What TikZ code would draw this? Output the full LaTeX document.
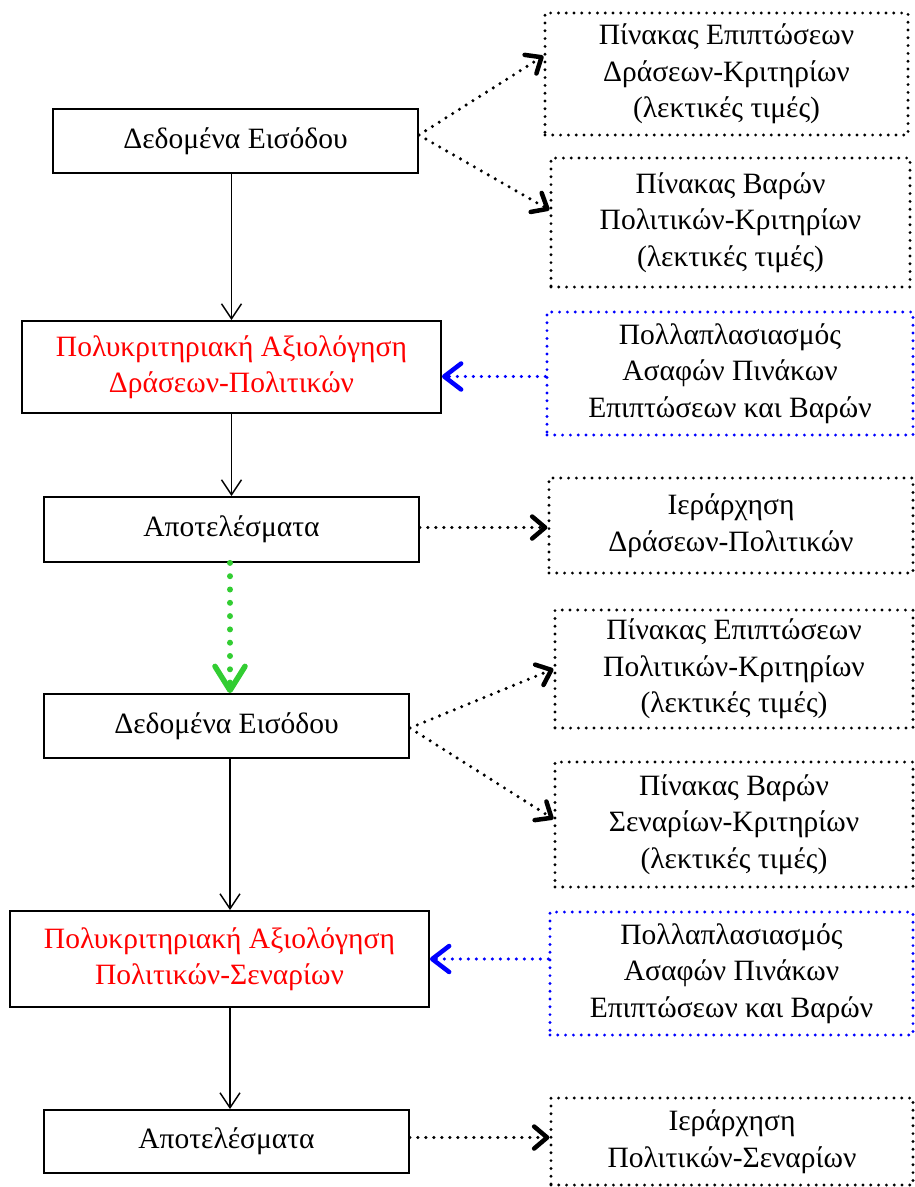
\documentclass[tikz,border=0pt]{standalone}
\usepackage{fontspec}
\setmainfont{Liberation Serif}
\usetikzlibrary{arrows.meta}
\definecolor{flowgreen}{RGB}{50,205,50}
\begin{document}
\begin{tikzpicture}[x=1pt,y=-1pt,
  every node/.style={font=\fontsize{29.5}{36.5}\selectfont, align=center, inner sep=0pt, rectangle},
  procbox/.style={draw=black, line width=1.8pt},
  dotbox/.style={draw=black, line width=3.2pt, dash pattern=on 0pt off 7.8pt, line cap=round},
  bluebox/.style={dotbox, draw=blue},
  flow/.style={draw=black, line width=1.5pt, -{Straight Barb[length=15pt,width=20pt]}},
  dotarrow/.style={draw=black, line width=3.4pt, dash pattern=on 0pt off 8pt, line cap=round,
    -{Straight Barb[round,length=13pt,width=22pt,line width=4.5pt]}},
  bluearrow/.style={dotarrow, draw=blue,
    -{Straight Barb[round,length=17pt,width=26pt,line width=4.5pt]}},
  greenarrow/.style={draw=flowgreen, line width=6pt, dash pattern=on 0pt off 13.3pt, line cap=round,
    -{Straight Barb[round,length=24pt,width=30pt,line width=5.5pt]}}
]
\useasboundingbox (0,0) rectangle (914,1187);

% main flow, left column
\node[procbox, minimum width=365pt, minimum height=64pt] (b1) at (235.5,141) {Δεδομένα Εισόδου};
\node[procbox, minimum width=419pt, minimum height=92pt, text=red] (b2) at (231.5,367)
  {Πολυκριτηριακή Αξιολόγηση\\Δράσεων-Πολιτικών};
\node[procbox, minimum width=375pt, minimum height=65pt] (b3) at (231.5,529.5) {Αποτελέσματα};
\node[procbox, minimum width=365pt, minimum height=64pt] (b4) at (226.5,726) {Δεδομένα Εισόδου};
\node[procbox, minimum width=419pt, minimum height=96pt, text=red] (b5) at (219.5,959)
  {Πολυκριτηριακή Αξιολόγηση\\Πολιτικών-Σεναρίων};
\node[procbox, minimum width=365pt, minimum height=63pt] (b6) at (226.5,1141.5) {Αποτελέσματα};

% side boxes, right column
\node[dotbox, minimum width=363pt, minimum height=122pt] (r1) at (726.5,74)
  {Πίνακας Επιπτώσεων\\Δράσεων-Κριτηρίων\\(λεκτικές τιμές)};
\node[dotbox, minimum width=359pt, minimum height=129pt] (r2) at (730.5,222.5)
  {Πίνακας Βαρών\\Πολιτικών-Κριτηρίων\\(λεκτικές τιμές)};
\node[bluebox, minimum width=366pt, minimum height=123pt] (r3) at (730,373.5)
  {Πολλαπλασιασμός\\Ασαφών Πινάκων\\Επιπτώσεων και Βαρών};
\node[dotbox, minimum width=364pt, minimum height=95pt] (r4) at (731,525.5)
  {Ιεράρχηση\\Δράσεων-Πολιτικών};
\node[dotbox, minimum width=358pt, minimum height=118pt] (r5) at (734,669)
  {Πίνακας Επιπτώσεων\\Πολιτικών-Κριτηρίων\\(λεκτικές τιμές)};
\node[dotbox, minimum width=358pt, minimum height=125pt] (r6) at (734,824.5)
  {Πίνακας Βαρών\\Σεναρίων-Κριτηρίων\\(λεκτικές τιμές)};
\node[bluebox, minimum width=363pt, minimum height=123pt] (r7) at (731.5,973.5)
  {Πολλαπλασιασμός\\Ασαφών Πινάκων\\Επιπτώσεων και Βαρών};
\node[dotbox, minimum width=362pt, minimum height=87pt] (r8) at (732,1141.5)
  {Ιεράρχηση\\Πολιτικών-Σεναρίων};

% solid flow arrows
\draw[flow] (b2.north |- b1.south) -- (b2.north);
\draw[flow] (b2.south) -- (b3.north);
\draw[flow] ([xshift=3.5pt]b4.south) -- ([xshift=3.5pt]b4.south |- b5.north);
\draw[flow] ([xshift=3.5pt]b6.north |- b5.south) -- ([xshift=3.5pt]b6.north);

% link between the two stages
\draw[greenarrow] ([xshift=-1.5pt]b3.south) -- ([xshift=-1.5pt]b3.south |- b4.north);

% dotted links to side boxes
\draw[dotarrow] ([yshift=6pt]b1.east) -- ([yshift=18pt]r1.west);
\draw[dotarrow] ([yshift=6pt]b1.east) -- ([yshift=12.5pt]r2.west);
\draw[bluearrow] ([yshift=-3pt]r3.west) -- ([yshift=-3pt]r3.west -| b2.east);
\draw[dotarrow] ([yshift=2pt]b3.east) -- ([yshift=2pt]b3.east -| r4.west);
\draw[dotarrow] ([yshift=-2pt]b4.east) -- (r5.west);
\draw[dotarrow] ([yshift=-2pt]b4.east) -- ([yshift=5.5pt]r6.west);
\draw[bluearrow] (r7.west |- b5.east) -- (b5.east);
\draw[dotarrow] ([yshift=4pt]b6.east) -- ([yshift=4pt]b6.east -| r8.west);
\end{tikzpicture}
\end{document}
